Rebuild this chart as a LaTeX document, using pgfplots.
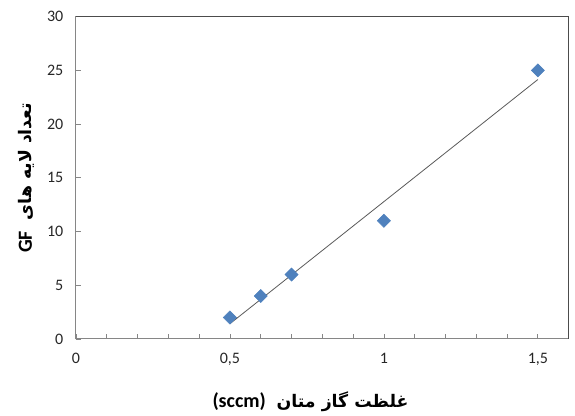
\documentclass[border=0pt]{standalone}
\usepackage{pgfplots}
\pgfplotsset{compat=1.18}
\usepackage{fontspec}
\setmainfont{Carlito}
\newfontfamily\arabicfont[Script=Arabic]{DejaVu Sans}
\TeXXeTstate=1
\definecolor{mkblue}{HTML}{4F81BD}
\definecolor{axgray}{HTML}{868686}
\begin{document}
\begin{tikzpicture}
\useasboundingbox (0pt,0pt) rectangle (431.25pt,312pt);
\begin{axis}[
  at={(57pt,57.75pt)}, anchor=south west,
  scale only axis,
  width=369.5pt, height=241.75pt,
  xmin=0, xmax=1.6, ymin=0, ymax=30,
  xtick={0,0.5,1,1.5},
  minor xtick={0.1,0.2,0.3,0.4,0.6,0.7,0.8,0.9,1.1,1.2,1.3,1.4,1.6},
  ytick={0,5,10,15,20,25,30},
  tick align=inside,
  major tick length=4pt, minor tick length=4pt,
  xtick pos=bottom, ytick pos=left,
  tick style={axgray, line width=0.6pt},
  axis line style={axgray, line width=0.75pt},
  /pgf/number format/use comma,
  /pgf/number format/assume math mode=true,
  tick label style={font=\fontsize{12}{14}\selectfont, black!85},
  xticklabel style={yshift=-7pt},
  yticklabel style={xshift=-6pt},
  xlabel={\bfseries{\fontsize{15}{17}\selectfont (sccm)}\hspace{8pt}{\fontsize{13}{15}\selectfont\arabicfont\beginR غلظت گاز متان\endR}},
  ylabel={\bfseries{\fontsize{15}{17}\selectfont GF}\hspace{8pt}{\fontsize{13}{15}\selectfont\arabicfont\beginR تعداد لایه های\endR}},
  xlabel style={at={(axis description cs:0.476,0)}, anchor=center, yshift=-47pt},
  ylabel style={at={(axis description cs:0,0.50)}, anchor=center, yshift=37pt},
  clip=false,
]
\addplot[black!65, line width=0.6pt] coordinates {(0.5,1.42) (1.5,24.15)};
\addplot[only marks, mark=square*, mark size=3.5pt,
  mark options={rotate=45, fill=mkblue, draw=mkblue}] coordinates {
  (0.5,2) (0.6,4) (0.7,6) (1,11) (1.5,25)};
\draw[black!70, line width=0.75pt] (rel axis cs:0,1) -- (rel axis cs:1,1) -- (rel axis cs:1,0);
\end{axis}
\end{tikzpicture}
\end{document}
